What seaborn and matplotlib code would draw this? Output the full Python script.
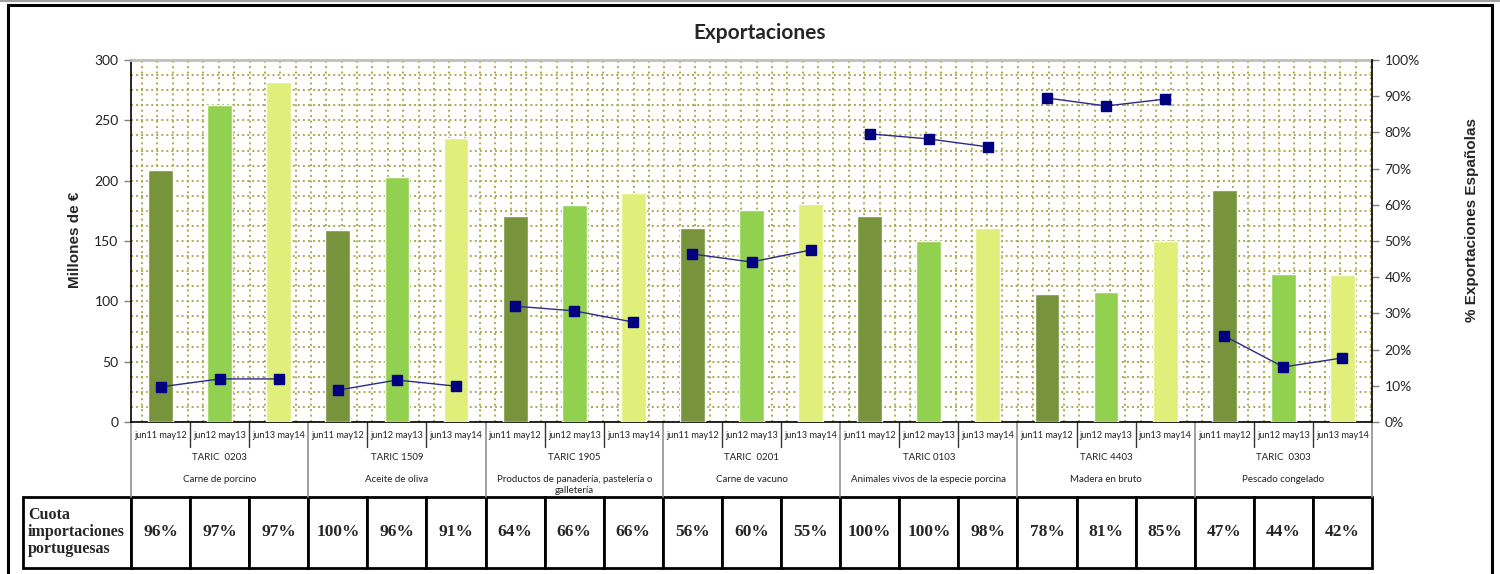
import numpy as np
import pandas as pd
import matplotlib
matplotlib.use("Agg")
import matplotlib.pyplot as plt
import seaborn as sns
from matplotlib.patches import Rectangle
from matplotlib.lines import Line2D

# ---------------- data ----------------
periods = ["jun11 may12", "jun12 may13", "jun13 may14"]
taric_codes = ["TARIC  0203", "TARIC 1509", "TARIC 1905", "TARIC  0201",
               "TARIC 0103", "TARIC 4403", "TARIC  0303"]
products = ["Carne de porcino", "Aceite de oliva",
            "Productos de panadería, pastelería o\ngalletería",
            "Carne de vacuno", "Animales vivos de la especie porcina",
            "Madera en bruto", "Pescado congelado"]
exports_meur = [209, 263, 282, 159, 203, 235, 171, 180, 190, 161, 176, 181,
                171, 150, 161, 106, 108, 150, 192, 123, 122]
share_spanish_pct = [9.7, 11.9, 11.9, 8.8, 11.6, 9.9, 32.0, 30.7, 27.6,
                     46.4, 44.2, 47.5, 79.6, 78.2, 76.0, 89.5, 87.3, 89.2,
                     23.8, 15.2, 17.7]
quota_pt = ["96%", "97%", "97%", "100%", "96%", "91%", "64%", "66%", "66%",
            "56%", "60%", "55%", "100%", "100%", "98%", "78%", "81%", "85%",
            "47%", "44%", "42%"]
quota_label = "Cuota\nimportaciones\nportuguesas"
left_label = "Millones de €"
right_label = "% Exportaciones Españolas"
title = "Exportaciones"

bar_colors = ["#77933C", "#92D050", "#DFEF7A"]
grid_color = "#AAAA50"

n_groups = len(taric_codes)
slots = [f"{taric_codes[g]}|{periods[p]}" for g in range(n_groups) for p in range(3)]
df = pd.DataFrame({
    "slot": slots,
    "period": [periods[i % 3] for i in range(len(slots))],
    "exports": exports_meur,
})

sns.set_style("white")
plt.rcParams["font.family"] = ["Lato", "DejaVu Sans"]

fig = plt.figure(figsize=(15, 5.74), dpi=100)
W, H = 1500, 574
L, R, T, B = 131, 1372, 60, 422
ax = fig.add_axes([L / W, 1 - B / H, (R - L) / W, (B - T) / H])

sns.barplot(data=df, x="slot", y="exports", hue="period", palette=bar_colors,
            dodge=False, width=0.42, saturation=1, legend=False, ax=ax, zorder=3)
ax.set_xlim(-0.5, len(slots) - 0.5)
ax.set_ylim(0, 300)
ax.set_yticks(np.arange(0, 301, 50))
ax.set_yticks(np.arange(0, 301, 12.5), minor=True)
ax.set_xticks([])
ax.set_xticks(np.arange(-0.5 + 0.186, len(slots) - 0.5, 0.26), minor=True)
ax.set_xlabel("")
ax.set_ylabel("")
ax.set_axisbelow(True)
ax.grid(False)
ax.grid(which="both", axis="y", color=grid_color, linestyle=(0, (1.0, 1.6)), linewidth=1.4)
ax.grid(which="minor", axis="x", color=grid_color, linestyle=(0, (1.0, 1.8)), linewidth=1.4)
ax.tick_params(axis="y", which="major", direction="out", length=5, width=1,
               color="#808080", labelsize=10, pad=4)
ax.tick_params(axis="y", which="minor", length=0)
ax.tick_params(axis="x", which="both", length=0)
for s in ["left", "bottom"]:
    ax.spines[s].set_color("black")
    ax.spines[s].set_linewidth(1.2)
ax.spines["top"].set_color("#BFBFBF")
ax.spines["top"].set_linewidth(2)
ax.spines["right"].set_visible(False)
for lab in ax.get_yticklabels():
    lab.set_color("#222222")

# secondary axis with line
ax2 = ax.twinx()
ax2.set_ylim(0, 100)
ax2.set_yticks(np.arange(0, 101, 10))
ax2.set_yticklabels([f"{v}%" for v in range(0, 101, 10)])
ax2.tick_params(axis="y", direction="out", length=5, width=1, color="#808080",
                labelsize=10, pad=4)
for s in ["top", "bottom", "left"]:
    ax2.spines[s].set_visible(False)
ax2.spines["right"].set_color("black")
ax2.spines["right"].set_linewidth(1.2)
for g in range(n_groups):
    xs = [3 * g, 3 * g + 1, 3 * g + 2]
    ax2.plot(xs, share_spanish_pct[3 * g:3 * g + 3], color="#2A2A8A", linewidth=1,
             marker="s", markersize=7, markerfacecolor="#000080",
             markeredgecolor="#000080", zorder=5)
ax2.grid(False)

# category axis labels
trans = ax.get_xaxis_transform()
hpx = B - T
fs_cat = 6.6
fs_grp = 7.0
for i in range(len(slots)):
    ax.text(i, -13 / hpx, periods[i % 3], transform=trans, ha="center", va="center",
            fontsize=fs_cat, color="#222222")
for b in range(len(slots) + 1):
    xb = b - 0.5
    if b % 3 == 0:
        ax.add_line(Line2D([xb, xb], [0, -75 / hpx], transform=trans, color="#909090",
                           linewidth=1.2, clip_on=False))
    else:
        ax.add_line(Line2D([xb, xb], [0, -25 / hpx], transform=trans, color="#333333",
                           linewidth=1, clip_on=False))
for g in range(n_groups):
    xc = 3 * g + 1
    ax.text(xc, -35 / hpx, taric_codes[g], transform=trans, ha="center", va="center",
            fontsize=fs_grp, color="#222222")
    yy = -63 / hpx if "\n" in products[g] else -57 / hpx
    ax.text(xc, yy, products[g], transform=trans, ha="center", va="center",
            fontsize=fs_grp, color="#222222", linespacing=1.4)

# bottom table
tx0, tx1, ty0, ty1 = 23, 1372, 497, 568
first_w = (L - tx0) / (tx1 - tx0)
slot_w = ((R - L) / len(slots)) / (tx1 - tx0)
tbl = ax.table(cellText=[[""] + quota_pt],
               colWidths=[first_w] + [slot_w] * len(slots),
               cellLoc="center",
               bbox=[(tx0 - L) / (R - L), (B - ty1) / hpx, (tx1 - tx0) / (R - L),
                     (ty1 - ty0) / hpx])
tbl.auto_set_font_size(False)
tbl.set_fontsize(12.5)
for (r, c), cell in tbl.get_celld().items():
    cell.set_linewidth(2)
    cell.set_edgecolor("black")
    cell.set_facecolor("white")
    cell.get_text().set_fontweight("bold")
    cell.get_text().set_fontfamily("Liberation Serif")
ax.text((28 - L) / (R - L), (B - 532) / hpx, quota_label, transform=ax.transAxes,
        ha="left", va="center", fontsize=11.5, fontweight="bold",
        family="Liberation Serif", linespacing=1.05)

# titles
fig.text(760 / W, 1 - 33 / H, title, ha="center", va="center", fontsize=15,
         fontweight="bold")
fig.text(75 / W, 1 - 240 / H, left_label, ha="center", va="center", rotation=90,
         fontsize=11, fontweight="bold", family="Liberation Sans")
fig.text(1472 / W, 1 - 220 / H, right_label, ha="center", va="center", rotation=90,
         fontsize=11, fontweight="bold", family="Liberation Sans")

# outer frame
fig.add_artist(Rectangle((8 / W, -0.02), (1492 - 8) / W, 1 - 5 / H + 0.02,
                         transform=fig.transFigure, fill=False, edgecolor="black",
                         linewidth=2.2))
fig.add_artist(Line2D([0, 1], [1 - 1 / H, 1 - 1 / H], transform=fig.transFigure,
                      color="#A0A0A0", linewidth=1.5))

fig.savefig("out.png", dpi=100)
